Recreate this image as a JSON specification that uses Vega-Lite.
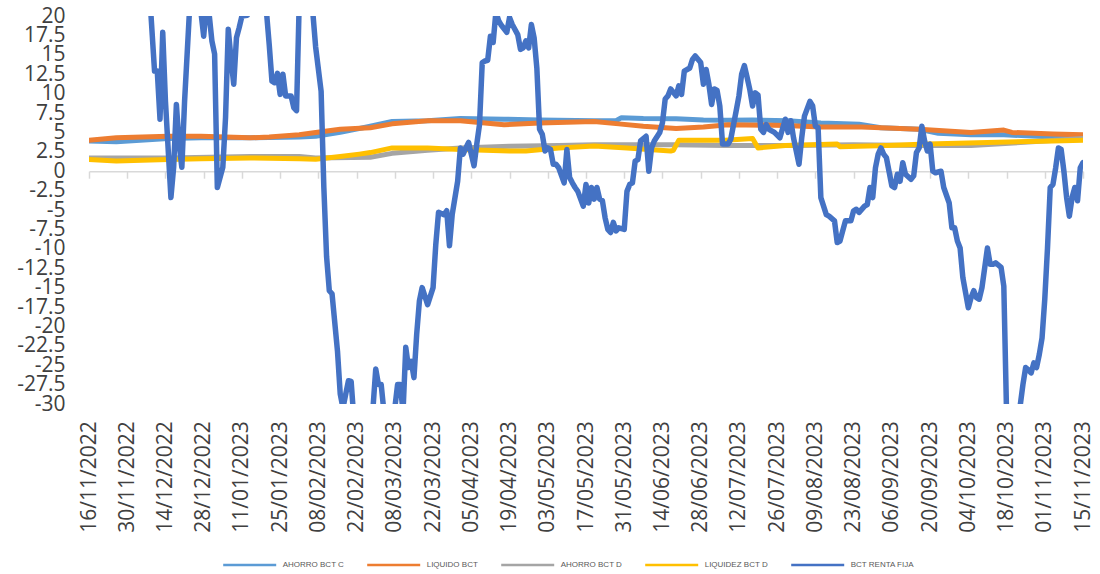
{
  "$schema": "https://vega.github.io/schema/vega-lite/v6.json",
  "width": 994,
  "height": 388,
  "autosize": {"type": "none"},
  "padding": {"left": 89, "top": 16, "right": 17, "bottom": 170},
  "background": "white",
  "config": {"view": {"stroke": null}, "font": "Open Sans"},
  "datasets": {
    "lb": [
      {"d":"2022-11-16","v":3.9},{"d":"2022-11-26","v":3.8},{"d":"2022-12-15","v":4.2},{"d":"2022-12-27","v":4.3},{"d":"2023-01-14","v":4.3},{"d":"2023-02-01","v":4.4},{"d":"2023-02-07","v":4.5},{"d":"2023-02-16","v":5.0},{"d":"2023-02-27","v":5.8},{"d":"2023-03-07","v":6.4},{"d":"2023-03-20","v":6.5},{"d":"2023-04-01","v":6.8},{"d":"2023-04-17","v":6.7},{"d":"2023-04-30","v":6.6},{"d":"2023-05-20","v":6.5},{"d":"2023-05-28","v":6.5},{"d":"2023-05-30","v":6.9},{"d":"2023-06-07","v":6.8},{"d":"2023-06-19","v":6.75},{"d":"2023-06-29","v":6.6},{"d":"2023-07-08","v":6.55},{"d":"2023-07-17","v":6.6},{"d":"2023-07-30","v":6.5},{"d":"2023-08-11","v":6.2},{"d":"2023-08-25","v":6.05},{"d":"2023-09-02","v":5.6},{"d":"2023-09-16","v":5.4},{"d":"2023-09-23","v":4.9},{"d":"2023-10-05","v":4.7},{"d":"2023-10-17","v":4.7},{"d":"2023-11-04","v":4.4},{"d":"2023-11-15","v":4.2}
    ],
    "or": [
      {"d":"2022-11-16","v":4.0},{"d":"2022-11-26","v":4.3},{"d":"2022-12-15","v":4.5},{"d":"2022-12-27","v":4.5},{"d":"2023-01-14","v":4.3},{"d":"2023-01-21","v":4.4},{"d":"2023-02-01","v":4.7},{"d":"2023-02-07","v":5.0},{"d":"2023-02-16","v":5.4},{"d":"2023-02-27","v":5.6},{"d":"2023-03-07","v":6.1},{"d":"2023-03-20","v":6.5},{"d":"2023-04-01","v":6.5},{"d":"2023-04-17","v":6.0},{"d":"2023-04-30","v":6.2},{"d":"2023-05-20","v":6.4},{"d":"2023-05-29","v":6.1},{"d":"2023-06-07","v":5.8},{"d":"2023-06-19","v":5.5},{"d":"2023-06-29","v":5.7},{"d":"2023-07-08","v":6.0},{"d":"2023-07-29","v":5.9},{"d":"2023-08-11","v":5.7},{"d":"2023-08-26","v":5.7},{"d":"2023-09-16","v":5.4},{"d":"2023-10-05","v":5.0},{"d":"2023-10-17","v":5.3},{"d":"2023-10-20","v":5.0},{"d":"2023-11-04","v":4.8},{"d":"2023-11-15","v":4.7}
    ],
    "gr": [
      {"d":"2022-11-16","v":1.7},{"d":"2022-12-15","v":1.7},{"d":"2023-01-14","v":1.9},{"d":"2023-02-01","v":1.9},{"d":"2023-02-07","v":1.7},{"d":"2023-02-27","v":1.8},{"d":"2023-03-07","v":2.3},{"d":"2023-03-20","v":2.7},{"d":"2023-04-01","v":3.0},{"d":"2023-04-19","v":3.2},{"d":"2023-05-07","v":3.3},{"d":"2023-05-20","v":3.4},{"d":"2023-06-12","v":3.4},{"d":"2023-06-19","v":3.4},{"d":"2023-07-07","v":3.3},{"d":"2023-07-30","v":3.3},{"d":"2023-08-23","v":3.4},{"d":"2023-09-16","v":3.3},{"d":"2023-10-05","v":3.3},{"d":"2023-10-23","v":3.7},{"d":"2023-11-15","v":4.2}
    ],
    "go": [
      {"d":"2022-11-16","v":1.5},{"d":"2022-11-26","v":1.3},{"d":"2022-12-15","v":1.5},{"d":"2022-12-27","v":1.6},{"d":"2023-01-14","v":1.7},{"d":"2023-02-01","v":1.6},{"d":"2023-02-07","v":1.55},{"d":"2023-02-16","v":1.9},{"d":"2023-02-23","v":2.2},{"d":"2023-02-27","v":2.4},{"d":"2023-03-07","v":3.0},{"d":"2023-03-20","v":3.0},{"d":"2023-04-01","v":2.8},{"d":"2023-04-19","v":2.6},{"d":"2023-04-25","v":2.6},{"d":"2023-05-07","v":3.0},{"d":"2023-05-20","v":3.25},{"d":"2023-06-01","v":3.0},{"d":"2023-06-17","v":2.6},{"d":"2023-06-18","v":2.7},{"d":"2023-06-20","v":4.0},{"d":"2023-07-07","v":4.0},{"d":"2023-07-17","v":4.2},{"d":"2023-07-19","v":3.0},{"d":"2023-07-29","v":3.3},{"d":"2023-08-17","v":3.5},{"d":"2023-08-18","v":3.15},{"d":"2023-09-04","v":3.3},{"d":"2023-09-19","v":3.5},{"d":"2023-10-11","v":3.7},{"d":"2023-11-04","v":3.9},{"d":"2023-11-15","v":4.0}
    ],
    "bl": [
      {"d":"2022-11-16","v":30},{"d":"2022-11-24","v":36},{"d":"2022-12-01","v":38},{"d":"2022-12-08","v":24},{"d":"2022-12-10","v":12.9},{"d":"2022-12-11","v":12.9},{"d":"2022-12-12","v":6.7},{"d":"2022-12-13","v":17.9},{"d":"2022-12-14","v":9.0},{"d":"2022-12-16","v":-3.4},{"d":"2022-12-17","v":0.5},{"d":"2022-12-18","v":8.6},{"d":"2022-12-19","v":3.5},{"d":"2022-12-20","v":0.5},{"d":"2022-12-21","v":9.0},{"d":"2022-12-23","v":22},{"d":"2022-12-25","v":30},{"d":"2022-12-27","v":20.5},{"d":"2022-12-28","v":17.4},{"d":"2022-12-29","v":21.5},{"d":"2022-12-30","v":20.2},{"d":"2022-12-31","v":16.8},
      {"d":"2023-01-01","v":15.1},{"d":"2023-01-02","v":-2.1},{"d":"2023-01-04","v":0.5},{"d":"2023-01-05","v":6.9},{"d":"2023-01-06","v":18.3},{"d":"2023-01-07","v":14.5},{"d":"2023-01-08","v":11.2},{"d":"2023-01-09","v":17.2},{"d":"2023-01-10","v":18.5},{"d":"2023-01-11","v":20.0},{"d":"2023-01-13","v":20.1},{"d":"2023-01-16","v":26},{"d":"2023-01-19","v":24},{"d":"2023-01-20","v":20.5},{"d":"2023-01-21","v":16.3},{"d":"2023-01-22","v":11.6},{"d":"2023-01-23","v":11.4},{"d":"2023-01-24","v":12.6},{"d":"2023-01-25","v":9.9},{"d":"2023-01-26","v":12.5},{"d":"2023-01-27","v":9.7},{"d":"2023-01-29","v":9.7},{"d":"2023-01-30","v":8.2},{"d":"2023-01-31","v":7.8},
      {"d":"2023-02-01","v":22},{"d":"2023-02-03","v":30},{"d":"2023-02-05","v":25},{"d":"2023-02-06","v":20.3},{"d":"2023-02-07","v":16},{"d":"2023-02-09","v":10.3},{"d":"2023-02-10","v":-2.1},{"d":"2023-02-11","v":-11},{"d":"2023-02-12","v":-15.4},{"d":"2023-02-13","v":-15.8},{"d":"2023-02-15","v":-23.2},{"d":"2023-02-16","v":-28.7},{"d":"2023-02-17","v":-30.5},{"d":"2023-02-19","v":-27.0},{"d":"2023-02-20","v":-27.1},{"d":"2023-02-21","v":-32},{"d":"2023-02-24","v":-36},{"d":"2023-02-26","v":-33},{"d":"2023-02-28","v":-30.5},
      {"d":"2023-03-01","v":-25.5},{"d":"2023-03-02","v":-27.5},{"d":"2023-03-03","v":-27.5},{"d":"2023-03-04","v":-31},{"d":"2023-03-06","v":-34},{"d":"2023-03-08","v":-30.5},{"d":"2023-03-09","v":-27.5},{"d":"2023-03-10","v":-27.5},{"d":"2023-03-11","v":-31},{"d":"2023-03-12","v":-22.7},{"d":"2023-03-13","v":-25.3},{"d":"2023-03-14","v":-24.5},{"d":"2023-03-15","v":-26.6},{"d":"2023-03-16","v":-21.0},{"d":"2023-03-17","v":-16.7},{"d":"2023-03-18","v":-15.0},{"d":"2023-03-20","v":-17.2},{"d":"2023-03-22","v":-15.0},{"d":"2023-03-23","v":-9.4},{"d":"2023-03-24","v":-5.3},{"d":"2023-03-26","v":-5.6},{"d":"2023-03-27","v":-5.1},{"d":"2023-03-28","v":-9.6},{"d":"2023-03-29","v":-5.6},{"d":"2023-03-31","v":-1.3},
      {"d":"2023-04-01","v":3.0},{"d":"2023-04-02","v":2.2},{"d":"2023-04-03","v":3.0},{"d":"2023-04-04","v":3.7},{"d":"2023-04-06","v":0.7},{"d":"2023-04-07","v":3.5},{"d":"2023-04-08","v":6.0},{"d":"2023-04-09","v":14.0},{"d":"2023-04-10","v":14.2},{"d":"2023-04-11","v":14.3},{"d":"2023-04-12","v":17.4},{"d":"2023-04-13","v":16.6},{"d":"2023-04-14","v":20.5},{"d":"2023-04-15","v":19.4},{"d":"2023-04-16","v":18.8},{"d":"2023-04-18","v":17.9},{"d":"2023-04-19","v":19.8},{"d":"2023-04-20","v":18.9},{"d":"2023-04-22","v":17.6},{"d":"2023-04-23","v":15.7},{"d":"2023-04-24","v":15.9},{"d":"2023-04-25","v":16.8},{"d":"2023-04-26","v":15.9},{"d":"2023-04-27","v":18.9},{"d":"2023-04-28","v":17.2},{"d":"2023-04-29","v":13.3},{"d":"2023-04-30","v":5.4},
      {"d":"2023-05-01","v":4.75},{"d":"2023-05-02","v":2.6},{"d":"2023-05-03","v":3.0},{"d":"2023-05-04","v":2.8},{"d":"2023-05-05","v":0.9},{"d":"2023-05-06","v":0.9},{"d":"2023-05-07","v":0.45},{"d":"2023-05-09","v":-1.5},{"d":"2023-05-10","v":2.8},{"d":"2023-05-11","v":-0.8},{"d":"2023-05-12","v":-1.5},{"d":"2023-05-13","v":-2.1},{"d":"2023-05-14","v":-2.6},{"d":"2023-05-16","v":-4.5},{"d":"2023-05-17","v":-1.7},{"d":"2023-05-18","v":-4.1},{"d":"2023-05-19","v":-2.1},{"d":"2023-05-20","v":-3.6},{"d":"2023-05-21","v":-2.1},{"d":"2023-05-22","v":-3.6},{"d":"2023-05-23","v":-3.8},{"d":"2023-05-24","v":-6.0},{"d":"2023-05-25","v":-7.5},{"d":"2023-05-26","v":-7.9},{"d":"2023-05-27","v":-6.6},{"d":"2023-05-28","v":-7.7},{"d":"2023-05-29","v":-7.3},{"d":"2023-05-31","v":-7.5},
      {"d":"2023-06-01","v":-2.6},{"d":"2023-06-02","v":-1.7},{"d":"2023-06-03","v":-1.5},{"d":"2023-06-04","v":1.3},{"d":"2023-06-05","v":1.5},{"d":"2023-06-06","v":3.9},{"d":"2023-06-08","v":4.5},{"d":"2023-06-09","v":0.0},{"d":"2023-06-10","v":3.0},{"d":"2023-06-11","v":3.9},{"d":"2023-06-13","v":5.0},{"d":"2023-06-14","v":6.25},{"d":"2023-06-15","v":9.3},{"d":"2023-06-16","v":9.7},{"d":"2023-06-17","v":10.6},{"d":"2023-06-19","v":9.7},{"d":"2023-06-20","v":11.0},{"d":"2023-06-21","v":9.9},{"d":"2023-06-22","v":12.9},{"d":"2023-06-24","v":13.3},{"d":"2023-06-25","v":14.4},{"d":"2023-06-26","v":14.85},{"d":"2023-06-28","v":14.0},{"d":"2023-06-29","v":11.2},{"d":"2023-06-30","v":13.1},
      {"d":"2023-07-01","v":11.2},{"d":"2023-07-02","v":8.6},{"d":"2023-07-03","v":10.6},{"d":"2023-07-04","v":10.4},{"d":"2023-07-05","v":8.4},{"d":"2023-07-06","v":3.5},{"d":"2023-07-08","v":3.5},{"d":"2023-07-09","v":4.1},{"d":"2023-07-11","v":7.8},{"d":"2023-07-12","v":9.7},{"d":"2023-07-13","v":12.5},{"d":"2023-07-14","v":13.6},{"d":"2023-07-15","v":12.1},{"d":"2023-07-16","v":10.5},{"d":"2023-07-17","v":8.4},{"d":"2023-07-18","v":10.1},{"d":"2023-07-19","v":9.8},{"d":"2023-07-20","v":5.4},{"d":"2023-07-21","v":5.0},{"d":"2023-07-22","v":6.0},{"d":"2023-07-23","v":5.4},{"d":"2023-07-25","v":5.0},{"d":"2023-07-27","v":4.3},{"d":"2023-07-29","v":6.7},{"d":"2023-07-30","v":5.0},{"d":"2023-07-31","v":6.5},
      {"d":"2023-08-01","v":4.3},{"d":"2023-08-03","v":0.9},{"d":"2023-08-04","v":4.3},{"d":"2023-08-05","v":7.1},{"d":"2023-08-07","v":9.0},{"d":"2023-08-08","v":8.4},{"d":"2023-08-09","v":5.8},{"d":"2023-08-10","v":5.6},{"d":"2023-08-11","v":-3.4},{"d":"2023-08-13","v":-5.6},{"d":"2023-08-14","v":-5.8},{"d":"2023-08-16","v":-6.4},{"d":"2023-08-17","v":-9.2},{"d":"2023-08-18","v":-9.0},{"d":"2023-08-20","v":-6.4},{"d":"2023-08-22","v":-6.4},{"d":"2023-08-23","v":-5.1},{"d":"2023-08-24","v":-4.9},{"d":"2023-08-25","v":-5.3},{"d":"2023-08-27","v":-4.5},{"d":"2023-08-28","v":-4.3},{"d":"2023-08-29","v":-2.1},{"d":"2023-08-30","v":-3.4},{"d":"2023-08-31","v":0.45},
      {"d":"2023-09-01","v":2.2},{"d":"2023-09-02","v":3.0},{"d":"2023-09-03","v":2.2},{"d":"2023-09-04","v":1.75},{"d":"2023-09-06","v":-1.9},{"d":"2023-09-07","v":-2.1},{"d":"2023-09-08","v":-0.4},{"d":"2023-09-09","v":-1.3},{"d":"2023-09-10","v":1.1},{"d":"2023-09-11","v":-0.4},{"d":"2023-09-13","v":-1.05},{"d":"2023-09-14","v":-0.6},{"d":"2023-09-15","v":2.4},{"d":"2023-09-16","v":3.0},{"d":"2023-09-17","v":5.8},{"d":"2023-09-18","v":3.9},{"d":"2023-09-19","v":2.6},{"d":"2023-09-20","v":3.5},{"d":"2023-09-21","v":0.0},{"d":"2023-09-22","v":-0.2},{"d":"2023-09-24","v":0.0},{"d":"2023-09-25","v":-2.1},{"d":"2023-09-27","v":-4.1},{"d":"2023-09-28","v":-7.3},{"d":"2023-09-29","v":-7.3},{"d":"2023-09-30","v":-9.0},
      {"d":"2023-10-01","v":-9.9},{"d":"2023-10-02","v":-13.7},{"d":"2023-10-04","v":-17.6},{"d":"2023-10-05","v":-16.3},{"d":"2023-10-06","v":-15.4},{"d":"2023-10-07","v":-16.3},{"d":"2023-10-08","v":-16.5},{"d":"2023-10-09","v":-15.0},{"d":"2023-10-11","v":-9.9},{"d":"2023-10-12","v":-12.0},{"d":"2023-10-13","v":-12.0},{"d":"2023-10-14","v":-11.8},{"d":"2023-10-16","v":-12.4},{"d":"2023-10-17","v":-14.8},{"d":"2023-10-18","v":-31},{"d":"2023-10-20","v":-36},{"d":"2023-10-22","v":-33},{"d":"2023-10-23","v":-30.2},{"d":"2023-10-24","v":-27.5},{"d":"2023-10-25","v":-25.3},{"d":"2023-10-26","v":-25.6},{"d":"2023-10-27","v":-26.0},{"d":"2023-10-28","v":-24.7},{"d":"2023-10-29","v":-25.3},{"d":"2023-10-30","v":-23.6},{"d":"2023-10-31","v":-21.5},
      {"d":"2023-11-01","v":-16.5},{"d":"2023-11-02","v":-9.9},{"d":"2023-11-03","v":-2.1},{"d":"2023-11-04","v":-1.7},{"d":"2023-11-05","v":0.45},{"d":"2023-11-06","v":3.0},{"d":"2023-11-07","v":2.8},{"d":"2023-11-08","v":0.0},{"d":"2023-11-09","v":-3.4},{"d":"2023-11-10","v":-5.8},{"d":"2023-11-11","v":-3.4},{"d":"2023-11-12","v":-2.1},{"d":"2023-11-13","v":-3.8},{"d":"2023-11-14","v":0.45},{"d":"2023-11-15","v":1.1}
    ]
  },
  "encoding": {
    "x": {
      "field": "d",
      "type": "temporal",
      "scale": {"type": "utc", "domain": [{"year": 2022, "month": 11, "date": 16, "utc": true}, {"year": 2023, "month": 11, "date": 15, "utc": true}]},
      "axis": {
        "title": null,
        "values": [
          {"year":2022,"month":11,"date":16,"utc":true},{"year":2022,"month":11,"date":30,"utc":true},{"year":2022,"month":12,"date":14,"utc":true},{"year":2022,"month":12,"date":28,"utc":true},
          {"year":2023,"month":1,"date":11,"utc":true},{"year":2023,"month":1,"date":25,"utc":true},{"year":2023,"month":2,"date":8,"utc":true},{"year":2023,"month":2,"date":22,"utc":true},
          {"year":2023,"month":3,"date":8,"utc":true},{"year":2023,"month":3,"date":22,"utc":true},{"year":2023,"month":4,"date":5,"utc":true},{"year":2023,"month":4,"date":19,"utc":true},
          {"year":2023,"month":5,"date":3,"utc":true},{"year":2023,"month":5,"date":17,"utc":true},{"year":2023,"month":5,"date":31,"utc":true},{"year":2023,"month":6,"date":14,"utc":true},
          {"year":2023,"month":6,"date":28,"utc":true},{"year":2023,"month":7,"date":12,"utc":true},{"year":2023,"month":7,"date":26,"utc":true},{"year":2023,"month":8,"date":9,"utc":true},
          {"year":2023,"month":8,"date":23,"utc":true},{"year":2023,"month":9,"date":6,"utc":true},{"year":2023,"month":9,"date":20,"utc":true},{"year":2023,"month":10,"date":4,"utc":true},
          {"year":2023,"month":10,"date":18,"utc":true},{"year":2023,"month":11,"date":1,"utc":true},{"year":2023,"month":11,"date":15,"utc":true}
        ],
        "labelExpr": "utcFormat(datum.value, '%d/%m/%Y')",
        "labelAngle": -90,
        "labelFont": "Open Sans",
        "labelFontSize": 21,
        "labelColor": "#404040",
        "offset": -232.8,
        "domainColor": "#D9D9D9",
        "domainWidth": 1.5,
        "tickColor": "#D9D9D9",
        "tickWidth": 1.5,
        "tickSize": 7,
        "labelPadding": 242.5,
        "grid": false,
        "labelOverlap": false,
        "labelBound": false,
        "labelFlush": false
      }
    },
    "y": {
      "field": "v",
      "type": "quantitative",
      "scale": {"domain": [-30, 20], "nice": false, "zero": false},
      "axis": {
        "title": null,
        "values": [-30, -27.5, -25, -22.5, -20, -17.5, -15, -12.5, -10, -7.5, -5, -2.5, 0, 2.5, 5, 7.5, 10, 12.5, 15, 17.5, 20],
        "labelExpr": "toString(datum.value)",
        "domain": false,
        "ticks": false,
        "grid": false,
        "labelPadding": 24,
        "labelFont": "Open Sans",
        "labelFontSize": 21,
        "labelColor": "#404040",
        "labelOverlap": false,
        "labelBound": false,
        "labelFlush": false
      }
    },
    "color": {
      "field": "s",
      "type": "nominal",
      "scale": {
        "domain": ["AHORRO BCT C", "LIQUIDO BCT", "AHORRO BCT D", "LIQUIDEZ BCT D", "BCT RENTA FIJA"],
        "range": ["#5B9BD5", "#ED7D31", "#A5A5A5", "#FFC000", "#4472C4"]
      },
      "legend": {
        "title": null,
        "orient": "none",
        "legendX": 132.7,
        "legendY": 521,
        "direction": "horizontal",
        "symbolType": "stroke",
        "symbolSize": 2809,
        "symbolStrokeWidth": 2.5,
        "labelFont": "Liberation Sans",
        "labelFontSize": 8,
        "labelColor": "#595959",
        "labelOffset": 5,
        "columnPadding": 17,
        "padding": 0,
        "labelLimit": 200
      }
    }
  },
  "layer": [
    {"data": {"name": "lb"}, "transform": [{"calculate": "'AHORRO BCT C'", "as": "s"}], "mark": {"type": "line", "clip": true, "strokeWidth": 5, "strokeCap": "round", "strokeJoin": "round"}},
    {"data": {"name": "or"}, "transform": [{"calculate": "'LIQUIDO BCT'", "as": "s"}], "mark": {"type": "line", "clip": true, "strokeWidth": 5, "strokeCap": "round", "strokeJoin": "round"}},
    {"data": {"name": "gr"}, "transform": [{"calculate": "'AHORRO BCT D'", "as": "s"}], "mark": {"type": "line", "clip": true, "strokeWidth": 5, "strokeCap": "round", "strokeJoin": "round"}},
    {"data": {"name": "go"}, "transform": [{"calculate": "'LIQUIDEZ BCT D'", "as": "s"}], "mark": {"type": "line", "clip": true, "strokeWidth": 5, "strokeCap": "round", "strokeJoin": "round"}},
    {"data": {"name": "bl"}, "transform": [{"calculate": "'BCT RENTA FIJA'", "as": "s"}], "mark": {"type": "line", "clip": true, "strokeWidth": 5.5, "strokeCap": "round", "strokeJoin": "round"}}
  ]
}
